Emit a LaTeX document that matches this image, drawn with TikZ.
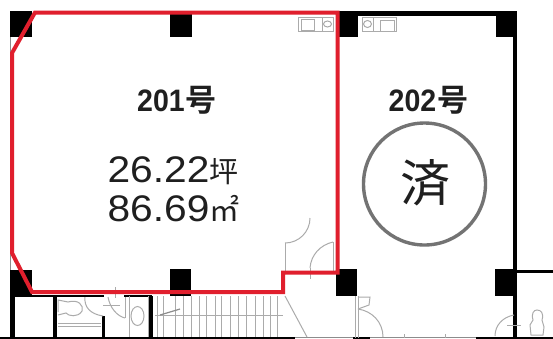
\documentclass[tikz,border=0pt]{standalone}
\usepackage{fontspec}
\setmainfont{Liberation Sans}
\newfontfamily\cjk{Noto Sans CJK JP}
\newfontfamily\cjkb{Noto Sans CJK JP}[BoldFont={Noto Sans CJK JP Bold}]
\tikzset{
  colbox/.style={fill=black,draw=none},
  wall/.style={draw=black,line width=#1},
  wall/.default=3pt,
  fixture/.style={draw=black!33,line width=1pt},
  thinline/.style={draw=black!45,line width=1pt},
  redline/.style={draw=planred,line width=4pt,line join=miter},
  label/.style={inner sep=0pt,text=black!88},
}
\definecolor{planred}{HTML}{E01F2D}
\begin{document}
\begin{tikzpicture}[x=1pt,y=-1pt]
\useasboundingbox (0,0) rectangle (553,338);
\fill[white] (0,0) rectangle (553,338);

% outer thin left edge
\draw[thinline] (10,11) -- (10,296);
% columns
\fill[colbox] (10,11) rectangle (32,37);
\fill[colbox] (170,11) rectangle (192,37);
\fill[colbox] (338,11) rectangle (358,37);
\fill[colbox] (496,11) rectangle (517,37);
\fill[colbox] (10,270) rectangle (32,296);
\fill[colbox] (170,269) rectangle (191,296);
\fill[colbox] (336,269) rectangle (357,296);
\fill[colbox] (495,269) rectangle (516,296);

% walls
\fill[black] (338,11) rectangle (517,16);
\fill[black] (512.5,37) rectangle (517,338);
\draw[wall=3pt] (516,271.5) -- (553,271.5);
\fill[black] (10,296) rectangle (15,338);
\draw[wall=2pt] (10,296) -- (104,296);
\draw[wall=2pt] (124,296) -- (152,296);
\draw[wall=4pt] (55,296) -- (55,338);
\draw[wall=3pt] (103,316) -- (103,338);
\draw[wall=3.5pt] (151,296) -- (151,338);
\draw[wall=2pt] (0,337.5) -- (295,337.5);
\draw[wall=2pt] (353,337.5) -- (370,337.5);
\draw[wall=2pt] (476,337.5) -- (553,337.5);
\draw[thinline] (295,337.5) -- (353,337.5);
\draw[thinline] (370,337.5) -- (476,337.5);

% kitchen fixtures
\draw[fixture] (298,17) rectangle (333,31);
\draw[fixture] (301,19) rectangle (314,30);
\draw[fixture] (322,17) -- (322,31);
\draw[fixture] (327.5,24) ellipse (4 and 3);
\draw[fixture] (362,17) rectangle (396,31);
\draw[fixture] (373,17) -- (373,31);
\draw[fixture] (367.5,24) ellipse (4 and 3.5);
\draw[fixture] (380,20) rectangle (394,31);

% washroom fixtures
\draw[fixture] (58,312) -- (58,300) -- (68,302) .. controls (78,299) and (84,305) .. (82,311) .. controls (78,318) and (68,316) .. (66,313) -- (58,315);
\draw[fixture] (58,323) -- (101,323);
\draw[fixture] (58,326) -- (101,326);
\draw[fixture] (85,297) .. controls (84,307) and (90,314) .. (103,316);
\draw[fixture] (103,305) -- (120,305);
\draw[fixture] (108,297) .. controls (110,308) and (117,316) .. (125,318);
\draw[fixture] (125,297) -- (125,318);
\draw[fixture] (129,296) -- (129,337);
\draw[fixture] (148,296) -- (148,337);
\draw[fixture] (137.5,316) ellipse (6.5 and 9.5);
\draw[fixture] (115,287) -- (115,298);

% stairs
\foreach \sx in {157,163,175,183,191,199,206,215,221,230,238,246,255,263,270,277}
  \draw[fixture] (\sx,296) -- (\sx,337);
\draw[fixture] (155,315) -- (283,315);
\draw[thinline,line width=1.2pt] (160,315) -- (180,309);
\draw[fixture] (285,296) -- (307,337);

% double door of 201
\draw[fixture] (285,243) -- (285,272);
\draw[fixture] (285,243) arc[start angle=90,end angle=0,radius=25];
\draw[fixture] (333,242) -- (333,272);
\draw[fixture] (333,242) .. controls (320,245) and (311,255) .. (310,268);
\draw[fixture] (310,268) -- (310,279);

% door below centre column
\draw[fixture] (355,296) -- (355,338);
\draw[fixture] (358,296) -- (358,338);
\draw[fixture] (358,297) -- (370,297) -- (369,305) -- (358,309);
\draw[fixture] (358,309) .. controls (372,311) and (383,322) .. (383,337);
\draw[fixture] (404,334) -- (404,338);
\draw[fixture] (445,334) -- (445,338);

% door and WC, lower right
\draw[fixture] (495,336) .. controls (495,325) and (503,317) .. (514,315);
\draw[fixture] (507,325) -- (521,325);
\draw[fixture] (531,335) -- (530,325) -- (533,320) .. controls (531,313) and (534,310) .. (537,310) .. controls (541,310) and (544,313) .. (542,320) -- (544,327) -- (543,335) -- cycle;

% red outline of the unit
\draw[redline] (35,12.5) -- (337.5,12.5) -- (337.5,272.5) -- (283,272.5) -- (283,292) -- (32,292) -- (12,253) -- (12,53) -- cycle;

% 済 circle
\draw[draw=black!55,line width=3.4pt] (424.5,184) circle (61);

% labels
\node[label,anchor=center] (n201) at (177,100) {\fontsize{31}{31}\selectfont\textbf{\scalebox{0.92}[1]{201}}\hspace{1pt}{\cjkb\bfseries\fontsize{31}{31}\selectfont 号}};
\node[label,anchor=center] (n202) at (428.5,100) {\fontsize{31}{31}\selectfont\textbf{\scalebox{0.92}[1]{202}}\hspace{1pt}{\cjkb\bfseries\fontsize{31}{31}\selectfont 号}};
\node[label,anchor=center] (tsubo) at (173,171) {\fontsize{37}{37}\selectfont\scalebox{1.1}[1]{26.22}{\cjk\fontsize{29}{29}\selectfont 坪}};
\node[label,anchor=center] (area) at (173.5,209) {\fontsize{37}{37}\selectfont\scalebox{1.1}[1]{86.69}{\cjk\fontsize{30}{30}\selectfont ㎡}};
\node[label,anchor=center] (sumi) at (425,183) {\cjk\fontsize{50}{50}\selectfont 済};
\end{tikzpicture}
\end{document}
